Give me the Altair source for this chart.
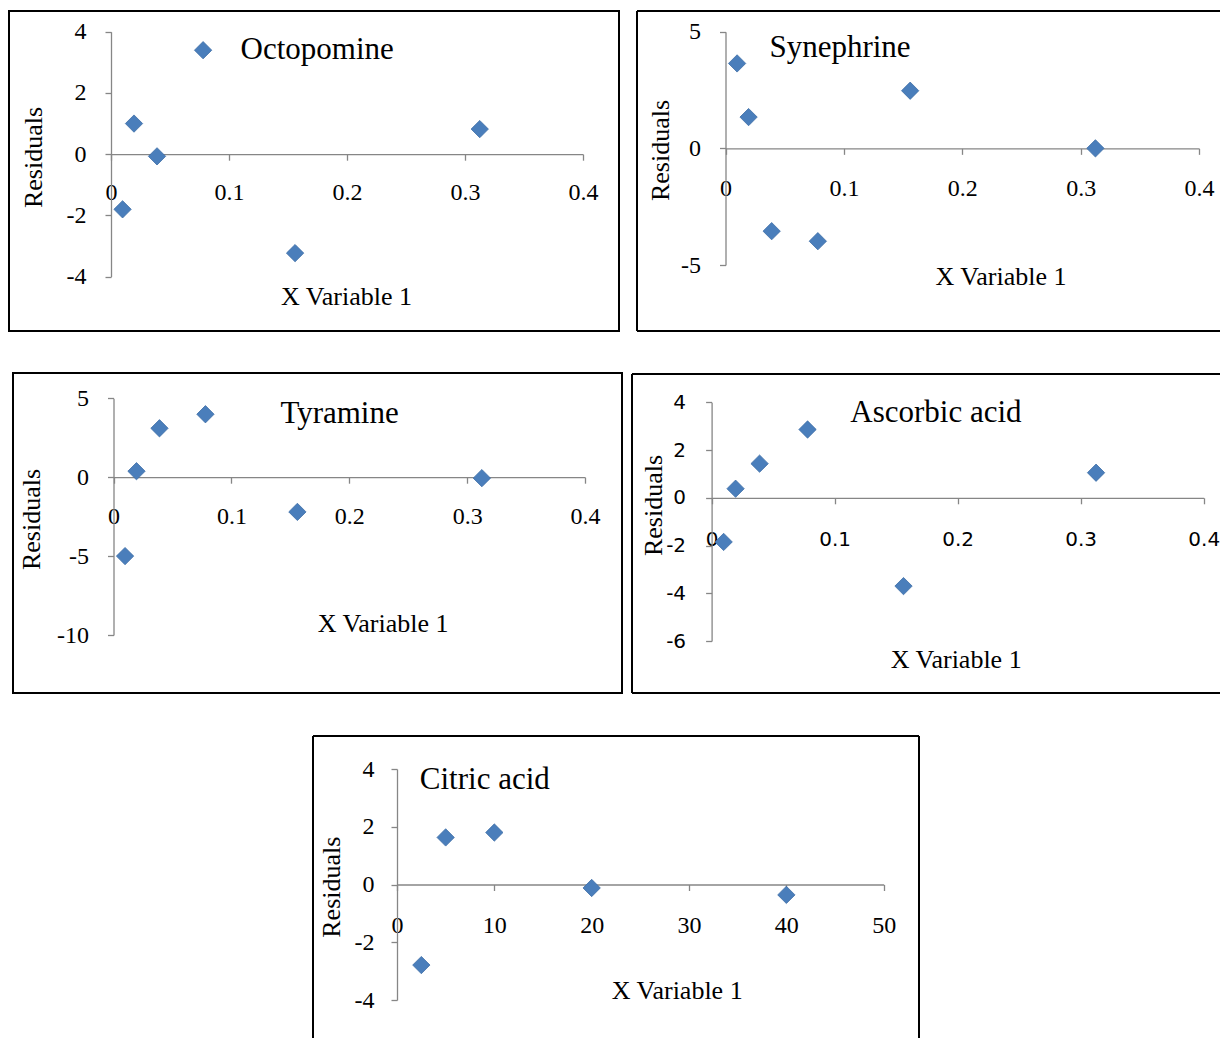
import altair as alt
import pandas as pd

SERIF = "Liberation Serif"
SANS = "DejaVu Sans"
BLUE = "#4A7EBB"
EDGE = "#3D6DA6"
GRAY = "#868686"

# ---- data ----
oct_x = [0.0098, 0.0195, 0.039, 0.156, 0.3125]
oct_y = [-1.8, 1.0, -0.07, -3.23, 0.82]

syn_x = [0.0098, 0.0195, 0.039, 0.078, 0.156, 0.3125]
syn_y = [3.64, 1.34, -3.55, -3.98, 2.47, 0.0]

tyr_x = [0.0098, 0.0195, 0.039, 0.078, 0.156, 0.3125]
tyr_y = [-5.0, 0.38, 3.1, 3.99, -2.2, -0.06]

asc_x = [0.0098, 0.0195, 0.039, 0.078, 0.156, 0.3125]
asc_y = [-1.85, 0.38, 1.43, 2.86, -3.7, 1.05]

cit_x = [2.5, 5, 10, 20, 40]
cit_y = [-2.79, 1.63, 1.8, -0.12, -0.36]

conc_ticks = [0, 0.1, 0.2, 0.3, 0.4]
cit_ticks = [0, 10, 20, 30, 40, 50]

# ---- layout (page pixels; the view starts at the 8px page margin) ----
O = 8
VW, VH = 1212, 1030
LABEL_EXPR = "'' + datum.value"


def v(p):
    return p - O


def frame(x1, y1, x2, y2):
    return alt.Chart(pd.DataFrame({"a": [0]})).mark_rect(
        fillOpacity=0, stroke="black", strokeWidth=2
    ).encode(x=alt.value(v(x1)), x2=alt.value(v(x2)), y=alt.value(v(y1)), y2=alt.value(v(y2)))


def frame_sides(left=None, right=None, top=None, bottom=None):
    """Frame drawn only on the sides that the reference shows (others run off the picture)."""
    d = pd.DataFrame({"a": [0]})
    r = dict(color="black", strokeWidth=2)
    x1 = v(left) if left is not None else 0
    x2 = v(right) if right is not None else VW
    y1 = v(top) if top is not None else 0
    y2 = v(bottom) if bottom is not None else VH
    out = []
    if left is not None:
        out.append(alt.Chart(d).mark_rule(**r).encode(x=alt.value(x1), y=alt.value(y1), y2=alt.value(y2)))
    if right is not None:
        out.append(alt.Chart(d).mark_rule(**r).encode(x=alt.value(x2), y=alt.value(y1), y2=alt.value(y2)))
    if top is not None:
        out.append(alt.Chart(d).mark_rule(**r).encode(x=alt.value(x1), x2=alt.value(x2), y=alt.value(y1)))
    if bottom is not None:
        out.append(alt.Chart(d).mark_rule(**r).encode(x=alt.value(x1), x2=alt.value(x2), y=alt.value(y2)))
    return out


def title_text(name, x, y):
    return alt.Chart(pd.DataFrame({"t": [name]})).mark_text(
        font=SERIF, fontSize=31, align="left", baseline="alphabetic", color="black"
    ).encode(x=alt.value(v(x)), y=alt.value(v(y)), text="t:N")


def points(name, xs, ys, xdom, xr, ydom, yr, xticks, yticks, ylab_pad, xlab_dy,
           ytitle, xtitle, tick_font=SERIF, tick_size=24, legend=None):
    df = pd.DataFrame({"x": xs, "y": ys, "series": [name] * len(xs)})
    xr = [v(p) for p in xr]
    yr = [v(p) for p in yr]
    y0 = yr[0] + (0 - ydom[0]) / (ydom[1] - ydom[0]) * (yr[1] - yr[0])
    common = dict(
        grid=False, domainColor=GRAY, tickColor=GRAY, domainWidth=1.3,
        tickWidth=1.3, tickSize=6, labelFont=tick_font, labelFontSize=tick_size,
        labelColor="black", titleFont=SERIF, titleFontSize=26,
        titleFontWeight="normal", titleColor="black", labelOverlap=False,
        labelFlush=False, labelExpr=LABEL_EXPR,
    )
    xaxis = alt.Axis(
        orient="bottom", values=xticks, offset=-(VH - y0), labelPadding=xlab_dy - 6,
        labelBaseline="middle", title="X Variable 1",
        titleX=v(xtitle[0]), titleY=v(xtitle[1]) - y0, titleAlign="center",
        titleBaseline="middle", **common,
    )
    yaxis = alt.Axis(
        orient="left", values=yticks, offset=-xr[0], labelPadding=ylab_pad,
        title="Residuals", titleX=v(ytitle[0]) - xr[0], titleY=v(ytitle[1]),
        titleAngle=270, titleAlign="center", titleBaseline="middle", **common,
    )
    enc = dict(
        x=alt.X("x:Q", scale=alt.Scale(domain=xdom, range=xr, nice=False, zero=False), axis=xaxis),
        y=alt.Y("y:Q", scale=alt.Scale(domain=ydom, range=yr, nice=False, zero=False), axis=yaxis),
    )
    if legend is not None:
        enc["color"] = alt.Color(
            "series:N", scale=alt.Scale(range=[BLUE]),
            legend=alt.Legend(
                orient="none", legendX=v(legend[0]), legendY=v(legend[1]),
                title=None, symbolType="diamond", symbolSize=300,
                symbolStrokeColor=EDGE, symbolStrokeWidth=0.8,
                labelFont=SERIF, labelFontSize=31, labelOffset=legend[2],
                padding=0, labelColor="black",
            ),
        )
    else:
        enc["color"] = alt.value(BLUE)
    return alt.Chart(df).mark_point(
        shape="diamond", filled=True, size=300, opacity=1, stroke=EDGE, strokeWidth=0.8
    ).encode(**enc)


p1 = points("Octopomine", oct_x, oct_y, [0, 0.4], [111, 583], [-4, 4], [276.7, 31.7],
            conc_ticks, [-4, -2, 0, 2, 4], 19, 38.5, (33, 157), (346, 296),
            legend=(187.6, 34.7, 22))
p2 = points("Synephrine", syn_x, syn_y, [0, 0.4], [725.5, 1199], [-5, 5], [265, 31.7],
            conc_ticks, [-5, 0, 5], 19, 40, (660.7, 150), (1000.5, 276.7))
p3 = points("Tyramine", tyr_x, tyr_y, [0, 0.4], [113.5, 585], [-10, 5], [635, 398.3],
            conc_ticks, [-10, -5, 0, 5], 19, 39.4, (31, 519), (382.6, 623.3))
p4 = points("Ascorbic acid", asc_x, asc_y, [0, 0.4], [711.6, 1203.7], [-6, 4], [641, 402.3],
            conc_ticks, [-6, -4, -2, 0, 2, 4], 20, 42, (653.9, 505), (955.7, 659),
            tick_font=SANS, tick_size=20)
p5 = points("Citric acid", cit_x, cit_y, [0, 50], [397, 883.7], [-4, 4], [1000, 769],
            cit_ticks, [-4, -2, 0, 2, 4], 17, 40.7, (331.2, 886.7), (676.7, 990.8))

layers = [
    frame(9, 11, 619, 331),
    *frame_sides(left=637, top=11, bottom=331),
    frame(13, 373, 622, 693),
    *frame_sides(left=632, top=374, bottom=693),
    *frame_sides(left=313, right=919, top=736),
    title_text("Synephrine", 769.4, 57.3),
    title_text("Tyramine", 280.4, 423.3),
    title_text("Ascorbic acid", 850.3, 422.3),
    title_text("Citric acid", 419.8, 789.3),
    p1, p2, p3, p4, p5,
]

chart = alt.layer(*layers).resolve_scale(
    x="independent", y="independent", color="independent"
).resolve_axis(x="independent", y="independent").properties(
    width=VW, height=VH, padding=0, background="white"
).configure_view(strokeOpacity=0)

chart.save("out.html", embed_options={"renderer": "svg", "actions": False})
